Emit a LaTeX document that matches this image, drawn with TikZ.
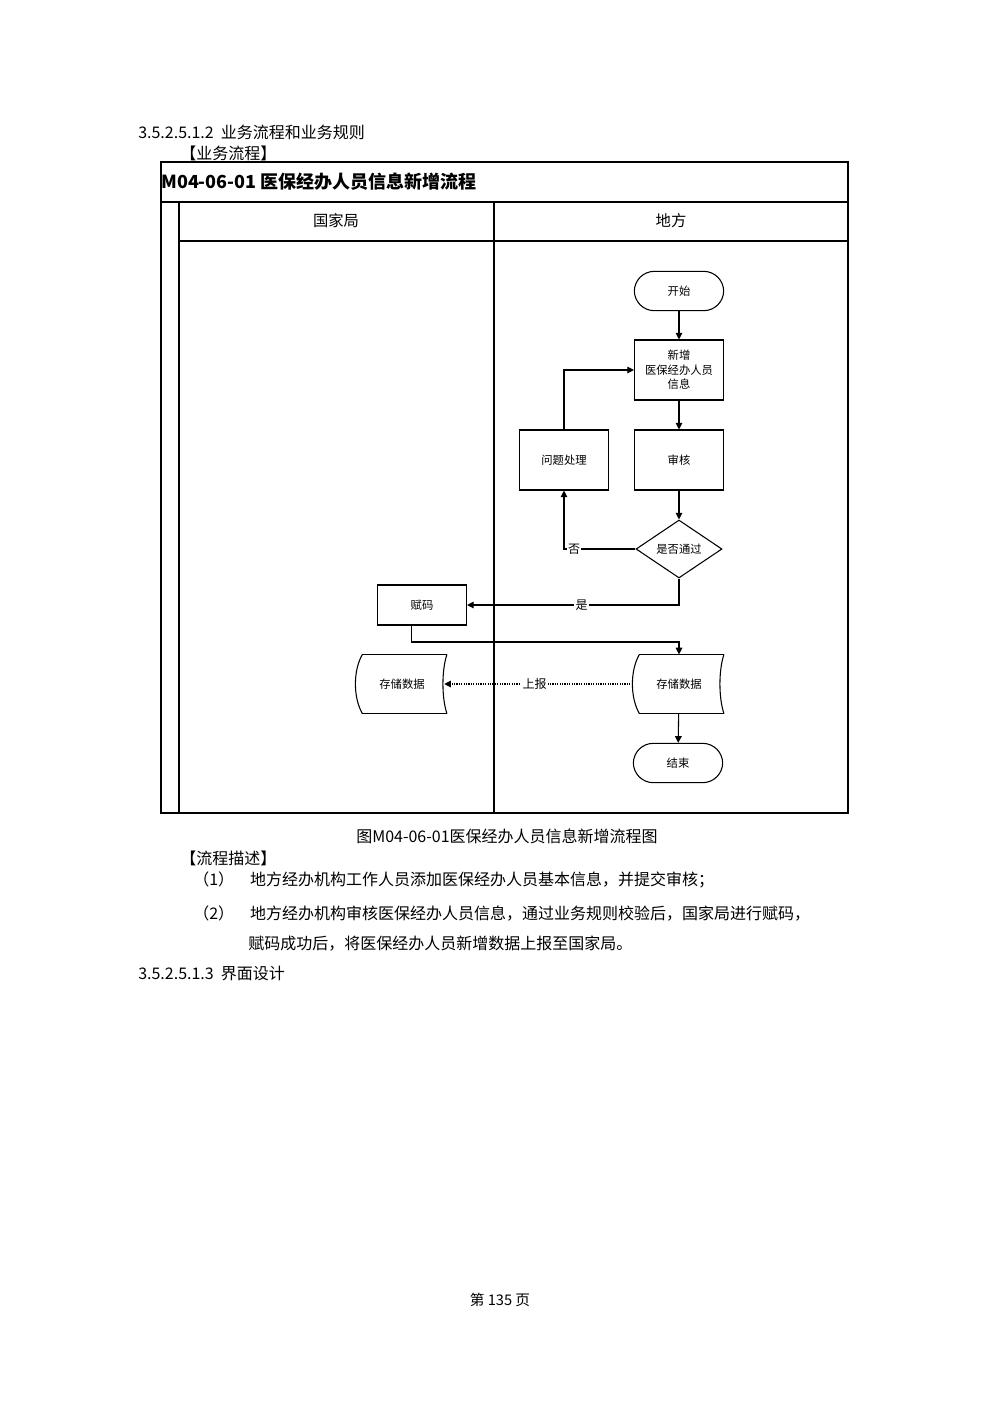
\documentclass[tikz,border=0pt]{standalone}
\usepackage{fontspec}
\setmainfont{Noto Sans CJK SC}
\usetikzlibrary{shapes.geometric,arrows.meta}
\begin{document}
\begin{tikzpicture}[x=0.75pt,y=-0.75pt,
  box/.style={draw,thick,minimum width=66.75pt,minimum height=45pt,align=center,font=\fontsize{8.5}{11}\selectfont,inner sep=1pt},
  term/.style={draw,thick,rounded corners=15pt,minimum width=67pt,minimum height=29.5pt,font=\fontsize{8.5}{10}\selectfont},
  dec/.style={draw,thick,diamond,aspect=1.5,minimum width=64.5pt,minimum height=43.5pt,inner sep=0pt,font=\fontsize{8.5}{10}\selectfont},
  stor/.style={minimum width=65pt,minimum height=44pt,font=\fontsize{8.5}{10}\selectfont},
  arr/.style={thick,-{Triangle[length=5pt,width=5pt]}},
  lab/.style={fill=white,inner sep=1pt,font=\fontsize{9}{10}\selectfont},
  txt/.style={anchor=west,inner sep=0pt,font=\fontsize{12}{14}\selectfont}]
\useasboundingbox (0,0) rectangle (1000,1415);
\fill[white] (0,0) rectangle (1000,1415);
% texts
\node[txt] (h1) at (138,132) {3.5.2.5.1.2\ \ 业务流程和业务规则};
\node[txt] (h2) at (180,153) {【业务流程】};
% frame
\draw[thick] (161,162) rectangle (848,813);
\draw[thick] (161,202) -- (848,202);
\draw[thick] (179,202) -- (179,813);
\draw[thick] (494,202) -- (494,813);
\draw[thick] (179,241) -- (848,241);
\node[anchor=west,inner sep=0pt,font=\bfseries\fontsize{13.5}{15}\selectfont] (title) at (161,182) {M04-06-01 医保经办人员信息新增流程};
\node[font=\fontsize{11.5}{13}\selectfont] (l1) at (336,221) {国家局};
\node[font=\fontsize{11.5}{13}\selectfont] (l2) at (671,221) {地方};
% nodes
\node[term] (start) at (679,291) {开始};
\node[box] (add) at (679,370) {新增\\医保经办人员\\信息};
\node[box] (rev) at (679,460) {审核};
\node[box] (fix) at (564,460) {问题处理};
\node[dec] (ok) at (679,549) {是否通过};
\node[box,minimum height=30pt] (code) at (422,605) {赋码};
\node[stor] (sr) at (679,684) {存储数据};
\node[stor] (sl) at (402,684) {存储数据};
\node[term] (end) at (678,763) {结束};
\foreach \n in {sr,sl}{
  \draw[thick] ([xshift=3pt]\n.north west) -- ([xshift=1pt]\n.north east);
  \draw[thick] ([xshift=3pt]\n.south west) -- ([xshift=1pt]\n.south east);
  \draw[thick] ([xshift=3pt]\n.north west) .. controls +(-7pt,-12pt) and +(-7pt,12pt) .. ([xshift=3pt]\n.south west);
  \draw[thick] ([xshift=1pt]\n.north east) .. controls +(-4pt,-12pt) and +(-4pt,12pt) .. ([xshift=1pt]\n.south east);
}
% connectors
\draw[arr] (start) -- (add);
\draw[arr] (add) -- (rev);
\draw[arr] (rev) -- (ok);
\draw[arr] (ok.west) -| node[lab,pos=0.43]{否} (fix.south);
\draw[arr] (fix.north) |- (add.west);
\draw[arr] (ok.south) |- node[lab,pos=0.73]{是} (code.east);
\draw[arr] ([xshift=-8pt]code.south) |- (642,642) -| (sr.north);
\draw[thick,densely dotted,-{Triangle[length=5pt,width=5pt]}] ([xshift=-2pt]sr.west) -- node[lab,pos=0.52]{上报} ([xshift=-1pt]sl.east);
\draw[arr] (sr) -- (end);
% below
\node[font=\fontsize{12}{14}\selectfont] (cap) at (507,836) {图M04-06-01医保经办人员信息新增流程图};
\node[txt] (d0) at (180,858) {【流程描述】};
\node[txt] (d1) at (193,880) {（1）\quad 地方经办机构工作人员添加医保经办人员基本信息，并提交审核；};
\node[txt] (d2) at (193,913) {（2）\quad 地方经办机构审核医保经办人员信息，通过业务规则校验后，国家局进行赋码，};
\node[txt] (d3) at (248,944) {赋码成功后，将医保经办人员新增数据上报至国家局。};
\node[txt] (h3) at (138,973) {3.5.2.5.1.3\ \ 界面设计};
\node[font=\fontsize{11}{13}\selectfont] (pg) at (500,1300) {第 135 页};
\end{tikzpicture}
\end{document}
